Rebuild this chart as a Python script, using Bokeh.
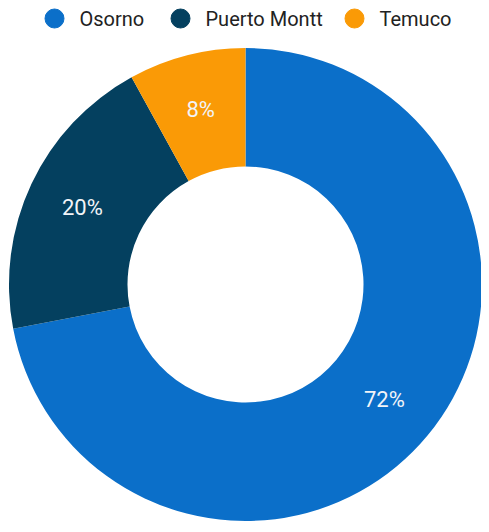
import numpy as np
from bokeh.plotting import figure
from bokeh.models import Range1d, ColumnDataSource
from bokeh.core.properties import value
from bokeh.embed import file_html
from bokeh.resources import INLINE

categories = ["Osorno", "Puerto Montt", "Temuco"]
shares = [72, 20, 8]
labels = ["72%", "20%", "8%"]
colors = ["#0B6FC9", "#04405F", "#FA9A06"]

W, H = 481, 524
p = figure(width=W, height=H, output_backend="svg", toolbar_location=None,
           x_range=Range1d(0, W), y_range=Range1d(0, H), min_border=0)
p.axis.visible = False
p.grid.visible = False
p.outline_line_color = None
p.background_fill_color = "white"
p.border_fill_color = "white"

cx, cy = 245, 240
r_out, r_in = 236.5, 118

frac = np.array(shares, dtype=float) / sum(shares)
cum = np.concatenate([[0], np.cumsum(frac)])
# start at 12 o'clock, going clockwise
start = np.pi / 2 - cum[1:] * 2 * np.pi
end = np.pi / 2 - cum[:-1] * 2 * np.pi
mid = (start + end) / 2
lr = (r_in + r_out) / 2 + 3
src = ColumnDataSource(dict(start=start, end=end, color=colors,
                            lx=cx + lr * np.cos(mid), ly=cy + lr * np.sin(mid), lab=labels))
p.annular_wedge(x=cx, y=cy, inner_radius=r_in, outer_radius=r_out,
                start_angle="start", end_angle="end", color="color",
                line_color=None, source=src)
p.text(x="lx", y="ly", text="lab", source=src, text_color="#F2F4F8",
       text_font=value("Roboto"), text_font_size="22px",
       text_align="center", text_baseline="middle")

# legend (manual, to draw round markers)
leg_x = [54, 180, 354]
leg_y = H - 18
p.scatter(x=leg_x, y=[leg_y] * 3, size=19, color=colors, marker="circle")
p.text(x=[x + 25 for x in leg_x], y=[leg_y] * 3, text=categories,
       text_color="#222222", text_font=value("Roboto"), text_font_size="20px",
       text_align="left", text_baseline="middle")

open("out.html", "w").write(file_html(p, INLINE))
